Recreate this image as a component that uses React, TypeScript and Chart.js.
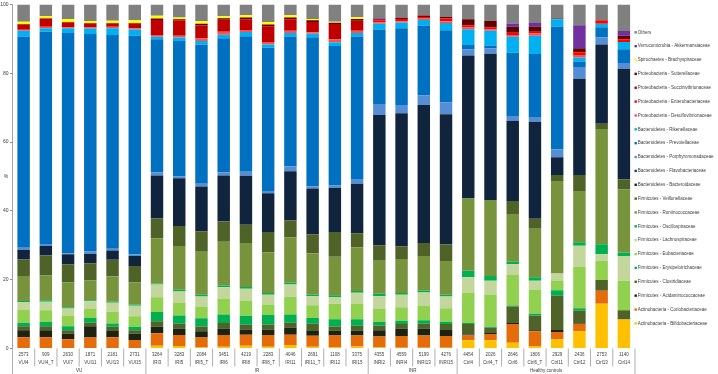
import React, { useEffect, useRef } from 'react';
import { Chart, registerables } from 'chart.js';

Chart.register(...registerables);

const sampleCounts = ['2573','909','2630','1871','2181','2731','3264','3283','2084','3451','4219','2283','4046','2691','1108','3375','4355','4559','5199','4276','4454','2026','2646','1806','2929','2436','2753','1140'];
const sampleNames = ['VUI4','VUI4_T','VUI7','VUI11','VUI13','VUI15','IRI3','IRI5','IRI5_T','IRI6','IRI8','IRI8_T','IRI11','IRI11_T','IRI12','IRI15','INRI2','INRI4','INRI13','INRI15','Ctrl4','Ctrl4_T','Ctrl6','Ctrl6_T','Ctrl11','Ctrl12','Ctrl13','Ctrl14'];
const groupNames = ['VU', 'IR', 'INR', 'Healthy controls'];
const groupSizes = [6, 10, 4, 8];

const bifido = [0,0,0,0,0,0, 0.8,0.7,0.3,0.5,0.8,0.5,1.0,0.5,0.4,0.6, 0.3,0.2,0.2,0.2, 2.4,2.4,1.7,0.7,2.7,5.0,13.0,8.4];
const corio = [3.3,3.3,2.7,3.2,3.3,2.5, 3.6,3.2,2.9,3.4,3.2,3.4,3.0,3.2,3.4,3.2, 3.2,3.4,3.6,3.4, 1.4,1.8,5.4,4.3,2.1,2.2,3.8,0];
const acidamino = [2.0,2.0,1.6,3.3,1.8,1.8, 1.9,1.9,1.8,1.9,1.5,1.6,2.1,1.4,1.4,1.4, 1.8,2.2,2.0,1.8, 0.3,0.3,0.3,0.3,0.6,0.2,0,0];
const clostr = [1.2,1.2,1.0,1.0,1.2,1.0, 1.6,1.4,1.4,1.6,1.4,1.5,1.4,2.1,1.2,1.4, 1.4,1.3,1.4,1.7, 3.0,1.5,4.8,4.3,9.9,3.6,3.1,2.7];
const erysip = [1.0,1.2,1.2,1.4,1.0,1.0, 2.7,2.4,2.4,2.5,2.6,2.8,2.4,1.7,2.1,1.9, 1.0,1.0,1.0,0.7, 0.3,0.3,0.3,0.5,1.6,0.7,0,0];
const eubact = [3.7,3.4,3.1,2.7,3.4,3.1, 4.3,3.8,3.4,4.5,4.3,3.0,5.1,3.7,4.5,4.6, 3.9,3.9,4.3,3.9, 8.8,9.4,8.9,6.9,2.9,12.0,5.6,8.6];
const lachno = [2.3,2.5,2.0,2.1,2.6,3.0, 3.7,3.2,2.9,3.4,3.6,2.8,3.6,2.6,2.0,3.1, 3.6,3.6,3.8,3.4, 4.5,4.0,3.1,2.7,2.0,6.2,1.9,7.2];
const oscillo = [0.3,0.4,0.4,0.3,0.3,0.4, 0.3,0.5,0.5,0.5,0.5,0.5,0.5,0.5,0.5,0.5, 0.7,0.5,0.5,0.5, 1.9,1.4,0.7,1.0,0,1.0,2.9,1.0];
const rumino = [7.3,7.2,7.2,5.8,7.4,6.4, 13.1,12.7,12.5,12.7,12.8,11.8,13.2,12.0,11.2,12.7, 9.6,9.9,10.1,9.8, 21.0,22.1,13.9,14.1,26.9,14.9,33.5,18.3];
const veillon = [4.8,5.8,5.3,5.0,4.8,4.8, 5.8,5.8,6.0,5.9,5.3,6.0,4.9,5.5,7.2,4.1, 4.5,3.7,3.8,4.8, 0,0,3.8,2.9,1.7,4.6,1.5,2.9];
const bacteroid = [2.8,2.8,2.9,2.7,2.7,2.9, 12.5,13.9,13.0,13.4,14.2,11.2,14.3,13.3,12.8,14.4, 37.9,38.7,40.1,37.9, 41.6,42.5,23.3,28.2,5.2,28.0,23.1,32.2];
const flavo = [0,0,0,0,0,0, 0,0,0,0,0,0,0,0,0,0, 0,0,0,0, 0,0,0,0,0,0,0,0];
const porphyro = [0.6,0.6,0.3,0.7,0.5,0.5, 0.9,0.5,0.8,0.9,1.2,0.7,1.5,0.7,0.7,1.4, 3.2,2.4,2.8,3.4, 1.7,1.6,1.4,1.2,2.3,3.4,2.0,1.7];
const prevot = [61.4,61.7,64.0,63.2,62.1,63.6, 38.7,39.4,40.4,39.0,39.4,41.6,37.7,43.3,40.5,41.4, 21.6,22.3,20.3,21.0, 1.3,0.8,18.4,18.5,35.7,1.6,3.0,4.0];
const rikenell = [1.7,1.0,1.4,1.6,2.0,1.7, 0.7,1.0,1.1,1.0,1.2,1.0,1.0,1.0,1.1,1.0, 1.7,1.7,1.6,2.1, 4.6,4.3,4.6,5.3,2.1,1.2,1.0,2.1];
const desulfo = [0.2,0.4,0.3,0.3,0.4,0.4, 0.5,0.5,0.7,0.9,0.6,0.7,0.7,0.4,0.9,0.7, 0.4,0.3,0.4,0.5, 0.5,0.3,0.5,0.7,0,0.7,0,0];
const entero = [0.2,0,0,0,0,0, 0,0,0,0,0,0,0,0,0,0, 0.6,0.7,0.5,0.8, 0.7,0.7,0.7,0.5,0,0.8,1.0,0.8];
const succini = [1.4,2.4,1.4,1.2,1.0,1.4, 4.4,4.5,3.8,3.5,3.1,4.6,3.3,3.0,4.4,2.9, 0,0,0,0, 0,0,0,0,0,0,0,0];
const sutter = [0.1,0.1,0.1,0.1,0.1,0.1, 0.4,0.3,0.5,0.4,0.5,0.5,0.5,0.5,0.4,0.5, 0.3,0.3,0.4,0.5, 1.7,1.9,1.7,1.5,0.2,1.2,0,1.0];
const brachy = [0.7,0.6,0.8,0.6,0.7,0.8, 0.8,0.5,0.7,0.6,0.7,0.7,0.7,0.4,0.3,0.5, 0,0,0,0, 0,0,0,0,0,0,0,0];
const akk = [0,0,0,0,0,0, 0,0,0,0,0,0,0,0,0,0, 0.3,0,0,0, 0,0,1.0,1.0,0,6.7,0,1.4];
const others = [5.0,3.4,4.3,4.8,4.7,4.6, 3.3,3.8,4.9,3.4,3.1,5.1,3.1,4.2,5.0,3.7, 4.0,3.9,3.2,3.6, 4.3,4.7,5.5,5.4,4.1,6.0,4.6,7.7];

// bottom to top
const seriesLabels = [
  'Actinobacteria - Bifidobacteriaceae',
  'Actinobacteria - Coriobacteriaceae',
  'Firmicutes - Acidaminococcaceae',
  'Firmicutes - Clostridiaceae',
  'Firmicutes - Erysipelotrichaceae',
  'Firmicutes - Eubacteriaceae',
  'Firmicutes - Lachnospiraceae',
  'Firmicutes - Oscillospiraceae',
  'Firmicutes - Ruminococcaceae',
  'Firmicutes - Veillonellaceae',
  'Bacteroidetes - Bacteroidaceae',
  'Bacteroidetes - Flavobacteriaceae',
  'Bacteroidetes - Porphyromonadaceae',
  'Bacteroidetes - Prevotellaceae',
  'Bacteroidetes - Rikenellaceae',
  'Proteobacteria - Desulfovibrionaceae',
  'Proteobacteria - Enterobacteriaceae',
  'Proteobacteria - Succinivibrionaceae',
  'Proteobacteria - Sutterellaceae',
  'Spirochaetes - Brachyspiraceae',
  'Verrucomicrobia - Akkermansiaceae',
  'Others',
];
const seriesValues = [bifido, corio, acidamino, clostr, erysip, eubact, lachno, oscillo, rumino, veillon, bacteroid, flavo, porphyro, prevot, rikenell, desulfo, entero, succini, sutter, brachy, akk, others];
const seriesColors = [
  '#ffc000', '#e46c0a', '#1c2310', '#4f6228', '#00b050', '#92d050', '#c3d69b', '#00b050', '#77933c', '#4f6228',
  '#10243e', '#1f3f7a', '#558ed5', '#0070c0', '#00b0f0',
  '#ff5050', '#ff0000', '#c00000', '#600000', '#ffff00', '#7030a0', '#808080',
];

const FONT = '"Liberation Sans", Arial, sans-serif';
const TEXT = '#404040';
const AXIS = '#8c8c8c';

const tablePlugin = {
  id: 'sampleTable',
  afterDraw(chart: any) {
    const ctx = chart.ctx;
    const xs = chart.scales.x;
    const ys = chart.scales.y;
    const area = chart.chartArea;
    const n = sampleNames.length;
    const w = (xs.right - xs.left) / n;
    ctx.save();
    ctx.strokeStyle = AXIS;
    ctx.lineWidth = 0.7;
    const edges = new Set<number>();
    let acc = 0;
    edges.add(0);
    groupSizes.forEach((s) => { acc += s; edges.add(acc); });
    for (let i = 0; i <= n; i++) {
      const px = xs.left + i * w;
      const bottom = edges.has(i) ? chart.height : area.bottom + 18;
      ctx.beginPath();
      ctx.moveTo(px, area.bottom);
      ctx.lineTo(px, bottom);
      ctx.stroke();
    }
    ctx.fillStyle = TEXT;
    ctx.font = `4.5px ${FONT}`;
    ctx.textAlign = 'center';
    ctx.textBaseline = 'middle';
    acc = 0;
    groupNames.forEach((g, gi) => {
      const start = acc;
      acc += groupSizes[gi];
      ctx.fillText(g, xs.left + ((start + acc) / 2) * w, area.bottom + 22.5);
    });
    ctx.font = `5px ${FONT}`;
    ctx.fillText('%', 6, (ys.top + ys.bottom) / 2);
    ctx.restore();
  },
};

const legendPlugin = {
  id: 'sideLegend',
  afterDraw(chart: any) {
    const ctx = chart.ctx;
    const ds = chart.data.datasets;
    const x0 = chart.chartArea.right - 0.5;
    ctx.save();
    ctx.font = `4.5px ${FONT}`;
    ctx.textAlign = 'left';
    ctx.textBaseline = 'middle';
    for (let k = 0; k < ds.length; k++) {
      const d = ds[ds.length - 1 - k];
      const y = 32.3 + k * 13.86;
      ctx.fillStyle = d.backgroundColor;
      ctx.fillRect(x0, y - 1.2, 2.4, 2.4);
      ctx.fillStyle = TEXT;
      ctx.fillText(d.label, x0 + 3.3, y);
    }
    ctx.restore();
  },
};

export default function App() {
  const ref = useRef<HTMLCanvasElement | null>(null);
  useEffect(() => {
    if (!ref.current) return;
    const chart = new Chart(ref.current, {
      type: 'bar',
      data: {
        labels: sampleNames.map((s, i) => [sampleCounts[i], s]),
        datasets: seriesLabels.map((label, i) => ({
          label,
          data: seriesValues[i],
          backgroundColor: seriesColors[i],
          borderWidth: 0,
          barPercentage: 0.56,
          categoryPercentage: 1,
        })),
      },
      options: {
        animation: false,
        responsive: true,
        maintainAspectRatio: false,
        layout: { padding: { left: 0, right: 83, top: 0, bottom: 0 } },
        plugins: { legend: { display: false }, tooltip: { enabled: false } },
        scales: {
          x: {
            stacked: true,
            grid: { display: false },
            border: { display: false },
            ticks: {
              autoSkip: false,
              maxRotation: 0,
              padding: -6,
              color: TEXT,
              font: { size: 4.5, family: FONT, lineHeight: 1.75 },
            },
            afterFit: (s: any) => { s.height = 25.5; },
          },
          y: {
            stacked: true,
            min: 0,
            max: 100,
            ticks: { stepSize: 20, padding: 1.5, color: TEXT, font: { size: 5, family: FONT } },
            grid: { drawOnChartArea: false, drawTicks: true, tickLength: 2.5, color: AXIS },
            border: { display: true, color: AXIS, width: 0.8 },
            afterFit: (s: any) => { s.width = 12.5; },
          },
        },
      },
      plugins: [tablePlugin, legendPlugin],
    });
    return () => chart.destroy();
  }, []);
  return (
    <div style={{ position: 'fixed', left: 0, top: 0, width: 718, height: 374, background: '#fff' }}>
      <canvas ref={ref} />
    </div>
  );
}
